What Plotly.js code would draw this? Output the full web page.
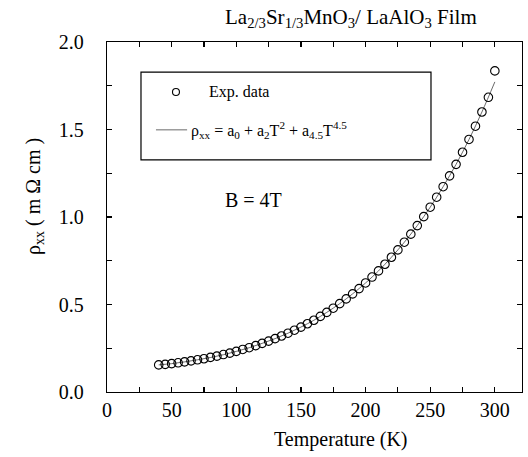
<!DOCTYPE html>
<html>
<head>
<meta charset="utf-8">
<script src="https://cdn.plot.ly/plotly-3.0.1.min.js"></script>
<style>html,body{margin:0;padding:0;background:#fff;}</style>
</head>
<body>
<div id="chart"></div>
<script>
var temperature = [40,45,50,55,60,65,70,75,80,85,90,95,100,105,110,115,120,125,130,135,140,145,150,155,160,165,170,175,180,185,190,195,200,205,210,215,220,225,230,235,240,245,250,255,260,265,270,275,280,285,290,295,300];
var rhoExp = [0.155,0.158,0.162,0.167,0.172,0.178,0.184,0.190,0.198,0.205,0.214,0.222,0.232,0.243,0.253,0.265,0.278,0.291,0.305,0.320,0.336,0.353,0.371,0.390,0.410,0.432,0.455,0.479,0.505,0.532,0.561,0.591,0.623,0.657,0.692,0.730,0.770,0.812,0.856,0.902,0.951,1.002,1.056,1.113,1.173,1.235,1.301,1.370,1.443,1.519,1.600,1.684,1.835];
// Fit curve
var fitT = [40,50,60,70,80,90,100,110,120,130,140,150,160,170,180,190,200,210,220,230,240,250,260,270,280,290,300];
var fitRho = [0.155,0.162,0.172,0.184,0.197,0.213,0.232,0.253,0.278,0.305,0.336,0.371,0.410,0.455,0.505,0.561,0.623,0.692,0.770,0.856,0.951,1.056,1.173,1.301,1.443,1.600,1.772];
var xTicks = [0,25,50,75,100,125,150,175,200,225,250,275,300];
var xTickLabels = ['0','','50','','100','','150','','200','','250','','300'];
var yTicks = [0.0,0.25,0.5,0.75,1.0,1.25,1.5,1.75,2.0];
var yTickLabels = ['0.0','','0.5','','1.0','','1.5','','2.0'];

var serif = 'Times New Roman';
var RHO = '\u03c1', OMEGA = '\u03a9';
var annFonts = [21, 16, 16, 20, 20, 20];

var traces = [
  {x: fitT, y: fitRho, type: 'scatter', mode: 'lines', line: {color: '#444', width: 0.8, shape: 'spline'}, showlegend: false, hoverinfo: 'skip'},
  {x: temperature, y: rhoExp, type: 'scatter', mode: 'markers', marker: {symbol: 'circle-open', size: 8.5, color: '#000', line: {width: 1.1, color: '#000'}}, showlegend: false}
];

var layout = {
  width: 528, height: 457,
  margin: {l: 107, r: 6, t: 42, b: 65},
  paper_bgcolor: '#fff', plot_bgcolor: '#fff',
  font: {family: serif, size: 20, color: '#000'},
  showlegend: false,
  xaxis: {
    range: [0, 321], tickmode: 'array', tickvals: xTicks, ticktext: xTickLabels, mirror: 'ticks',
    showgrid: false, zeroline: false, showline: true, linecolor: '#000', linewidth: 1.2,
    ticks: 'inside', ticklen: 5, tickcolor: '#000', tickwidth: 1.2,
    tickfont: {family: serif, size: 20, color: '#000'}
  },
  yaxis: {
    range: [0, 2.0], tickmode: 'array', tickvals: yTicks, ticktext: yTickLabels, mirror: 'ticks',
    showgrid: false, zeroline: false, showline: true, linecolor: '#000', linewidth: 1.2,
    ticks: 'inside', ticklen: 5, tickcolor: '#000', tickwidth: 1.2, ticklabelstandoff: 18,
    tickfont: {family: serif, size: 20, color: '#000'}
  },
  shapes: [
    {type: 'rect', xref: 'paper', yref: 'paper', x0: 0.0819, x1: 0.7807, y0: 0.663, y1: 0.914, line: {color: '#000', width: 1.2}, fillcolor: 'rgba(0,0,0,0)'},
    {type: 'circle', xref: 'paper', yref: 'paper', x0: 0.1578, x1: 0.1746, y0: 0.847, y1: 0.867, line: {color: '#000', width: 1.1}},
    {type: 'line', xref: 'paper', yref: 'paper', x0: 0.118, x1: 0.193, y0: 0.749, y1: 0.749, line: {color: '#444', width: 0.8}}
  ],
  annotations: [
    {text: 'La<sub>2/3</sub>Sr<sub>1/3</sub>MnO<sub>3</sub>/ LaAlO<sub>3</sub> Film', xref: 'paper', yref: 'paper', x: 0.588, y: 1.069, xanchor: 'center', yanchor: 'middle', showarrow: false, font: {family: serif, size: annFonts[0], color: '#000'}},
    {text: 'Exp. data', xref: 'paper', yref: 'paper', x: 0.241, y: 0.857, xanchor: 'left', yanchor: 'middle', showarrow: false, font: {family: serif, size: annFonts[1], color: '#000'}},
    {text: RHO + '<sub>xx</sub> = a<sub>0</sub> + a<sub>2</sub>T<sup>2</sup> + a<sub>4.5</sub>T<sup>4.5</sup>', xref: 'paper', yref: 'paper', x: 0.1976, y: 0.749, xanchor: 'left', yanchor: 'middle', showarrow: false, font: {family: serif, size: annFonts[2], color: '#000'}},
    {text: 'B = 4T', xref: 'paper', yref: 'paper', x: 0.2795, y: 0.549, xanchor: 'left', yanchor: 'middle', showarrow: false, font: {family: serif, size: annFonts[3], color: '#000'}},
    {text: 'Temperature (K)', xref: 'paper', yref: 'paper', x: 0.564, y: -0.137, xanchor: 'center', yanchor: 'middle', showarrow: false, font: {family: serif, size: annFonts[4], color: '#000'}},
    {text: RHO + '<sub>xx</sub> ( m ' + OMEGA + ' cm )', xref: 'paper', yref: 'paper', x: -0.1735, y: 0.56, xanchor: 'center', yanchor: 'middle', textangle: -90, showarrow: false, font: {family: serif, size: annFonts[5], color: '#000'}}
  ]
};

Plotly.newPlot('chart', traces, layout, {staticPlot: true}).then(function () {
  // Also set the font as SVG presentation attributes on every text
  var texts = document.querySelectorAll('#chart svg text');
  for (var i = 0; i < texts.length; i++) {
    var t = texts[i];
    var g = t.closest('.annotation');
    var idx = g ? parseInt(g.getAttribute('data-index'), 10) : -1;
    var size = (idx >= 0 && !isNaN(idx)) ? annFonts[idx] : 20;
    t.setAttribute('font-family', 'Times New Roman');
    t.setAttribute('font-size', size + 'px');
    t.style.fontFamily = '"Times New Roman"';
    if (!t.style.fontSize) t.style.fontSize = size + 'px';
  }
});
</script>
</body>
</html>
